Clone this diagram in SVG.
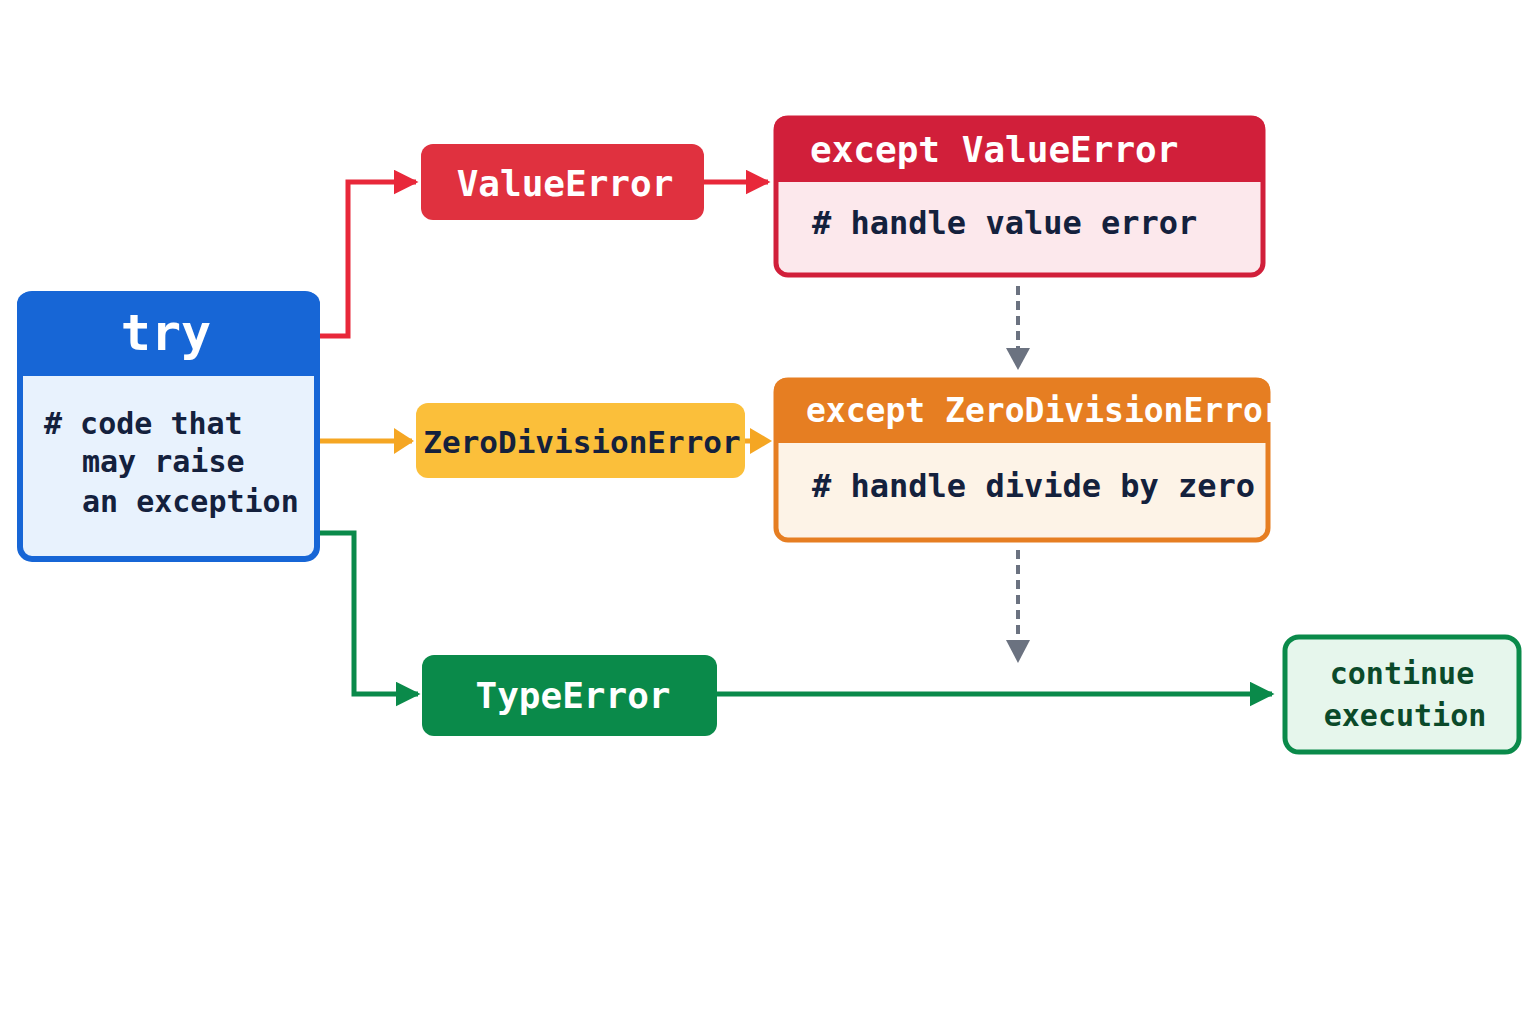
<svg xmlns="http://www.w3.org/2000/svg" width="1536" height="1024" viewBox="0 0 1536 1024">
<style>
text{font-family:"DejaVu Sans Mono","Liberation Mono",monospace;font-weight:bold}
.w{fill:#fff}
.d{fill:#14213d}
.c{fill:none;stroke-width:5}
</style>
<defs>
<marker id="ar" viewBox="0 0 10 10" refX="9" refY="5" markerWidth="5" markerHeight="5" orient="auto" markerUnits="strokeWidth"><path d="M0,0L10,5L0,10z" fill="context-stroke"/></marker>
<marker id="ag" viewBox="0 0 10 10" refX="9" refY="5" markerWidth="5" markerHeight="5" orient="auto" markerUnits="strokeWidth"><path d="M0,0L10,5L0,10z" fill="#6b7280"/></marker>
</defs>
<rect width="1536" height="1024" fill="#fff"/>
<g id="connectors">
<path class="c" stroke="#e8283a" d="M320,336H348V182H416" marker-end="url(#ar)"/>
<path class="c" stroke="#e8283a" d="M704,182H768" marker-end="url(#ar)"/>
<path class="c" stroke="#f5a623" d="M320,441H412"/>
<path d="M394,428L414,441L394,454z" fill="#f5a623"/>
<path class="c" stroke="#f5a623" d="M745,441H758"/>
<path d="M750,428L772,441L750,454z" fill="#f5a623"/>
<path class="c" stroke="#0a8a4a" d="M320,533H354V694H418" marker-end="url(#ar)"/>
<path class="c" stroke="#0a8a4a" d="M717,694H1272" marker-end="url(#ar)"/>
<path d="M1018,286V350" stroke="#6b7280" stroke-width="4" stroke-dasharray="9,6" fill="none"/>
<path d="M1006,348L1018,370L1030,348z" fill="#6b7280"/>
<path d="M1018,550V642" stroke="#6b7280" stroke-width="4" stroke-dasharray="9,6" fill="none"/>
<path d="M1006,640L1018,663L1030,640z" fill="#6b7280"/>
</g>
<g id="try">
<rect x="20" y="294" width="297" height="265" rx="12" fill="#e8f2fd" stroke="#1766d6" stroke-width="6"/>
<path d="M17,376V304a12,12 0 0 1 12,-12H308a12,12 0 0 1 12,12V376z" fill="#1766d6"/>
<text x="166" y="350" font-size="50" text-anchor="middle" class="w">try</text>
<text x="44" y="434" font-size="30" class="d" xml:space="preserve"># code that</text>
<text x="82" y="472" font-size="30" class="d">may raise</text>
<text x="82" y="512" font-size="30" class="d">an exception</text>
</g>
<g id="valueerror">
<rect x="421" y="144" width="283" height="76" rx="12" fill="#e0313f"/>
<text x="565" y="196" font-size="36" text-anchor="middle" class="w">ValueError</text>
</g>
<g id="except-value">
<rect x="776" y="118" width="487" height="157" rx="12" fill="#fce8ec" stroke="#d11f3a" stroke-width="5"/>
<path d="M774,182V128a12,12 0 0 1 12,-12H1253a12,12 0 0 1 12,12V182z" fill="#d11f3a"/>
<text x="810" y="162" font-size="36" class="w">except ValueError</text>
<text x="812" y="234" font-size="32" class="d"># handle value error</text>
</g>
<g id="zerodiv">
<rect x="416" y="403" width="329" height="75" rx="12" fill="#fbbf3a"/>
<text x="582" y="453" font-size="31" text-anchor="middle" class="d">ZeroDivisionError</text>
</g>
<g id="except-zero">
<rect x="776" y="380" width="492" height="160" rx="12" fill="#fdf3e7" stroke="#e67e22" stroke-width="5"/>
<path d="M774,443V390a12,12 0 0 1 12,-12H1258a12,12 0 0 1 12,12V443z" fill="#e67e22"/>
<text x="806" y="422" font-size="33" class="w">except ZeroDivisionError</text>
<text x="812" y="497" font-size="32" class="d"># handle divide by zero</text>
</g>
<g id="typeerror">
<rect x="422" y="655" width="295" height="81" rx="12" fill="#0a8a4a"/>
<text x="573" y="708" font-size="36" text-anchor="middle" class="w">TypeError</text>
</g>
<g id="continue">
<rect x="1285" y="637" width="234" height="115" rx="14" fill="#e6f6ec" stroke="#0a8a4a" stroke-width="5"/>
<text x="1402" y="684" font-size="30" text-anchor="middle" fill="#0b4a2a">continue</text>
<text x="1405" y="726" font-size="30" text-anchor="middle" fill="#0b4a2a">execution</text>
</g>
</svg>
